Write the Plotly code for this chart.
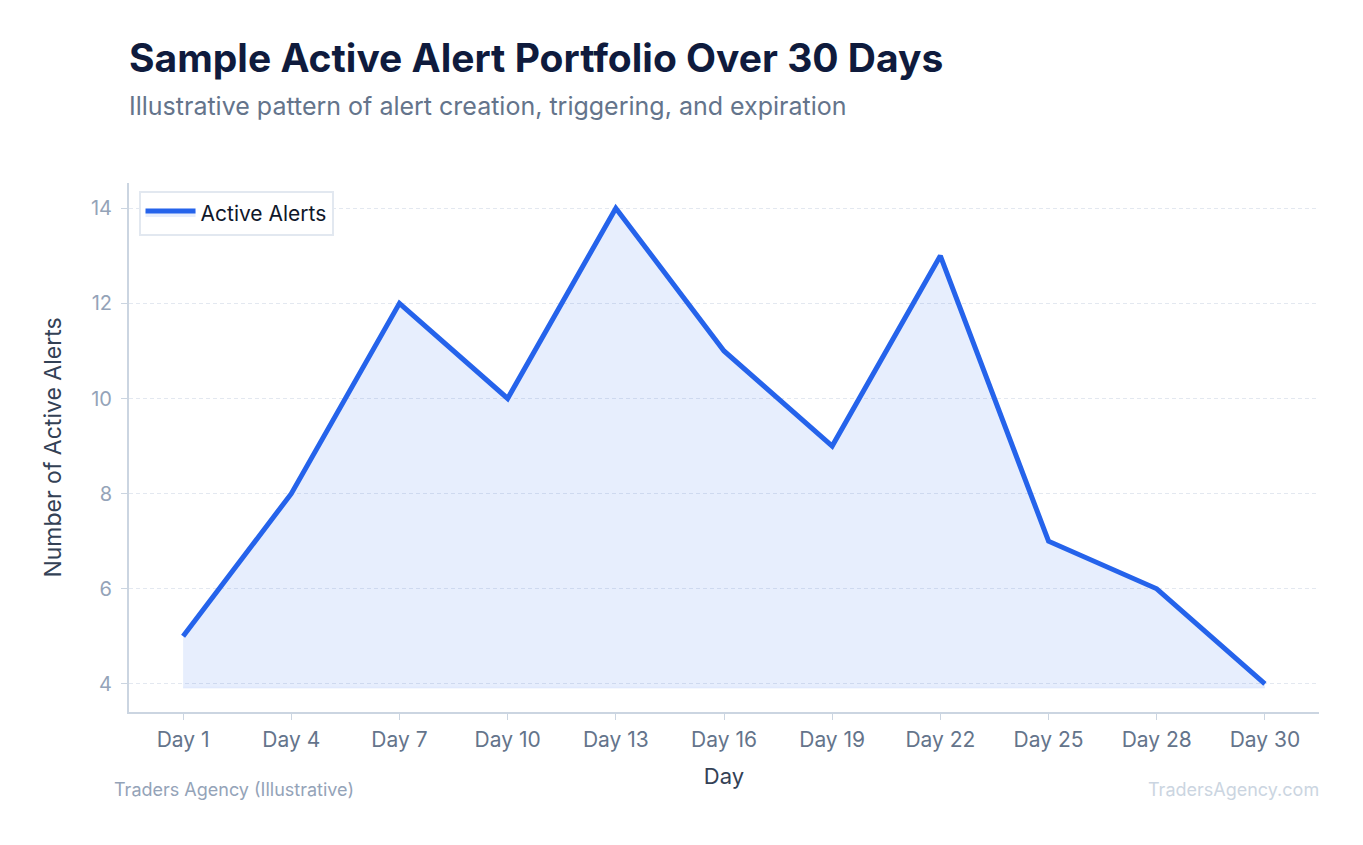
import plotly.graph_objects as go

# Données du portefeuille d'alertes
days = ["Day 1", "Day 4", "Day 7", "Day 10", "Day 13", "Day 16",
        "Day 19", "Day 22", "Day 25", "Day 28", "Day 30"]
active_alerts = [5, 8, 12, 10, 14, 11, 9, 13, 7, 6, 4]
fill_floor = 3.92  # niveau bas de la zone remplie

fig = go.Figure()

# ligne de base pour la zone remplie
fig.add_trace(go.Scatter(
    x=days, y=[fill_floor] * len(days),
    mode="lines", line=dict(width=2, color="rgba(37,99,235,0.06)"),
    showlegend=False, hoverinfo="skip"))

fig.add_trace(go.Scatter(
    x=days, y=active_alerts, name="Active Alerts",
    mode="lines", line=dict(color="#2563eb", width=5),
    fill="tonexty", fillcolor="rgba(37,99,235,0.11)"))

fig.update_layout(
    width=1363, height=845,
    paper_bgcolor="white", plot_bgcolor="white",
    font=dict(family="Inter", color="#334155"),
    margin=dict(l=121, r=52, t=175, b=141),
    showlegend=True,
    legend=dict(x=0.008, y=0.985, xanchor="left", yanchor="top",
                bordercolor="#e2e8f0", borderwidth=2, bgcolor="white",
                itemwidth=50,
                font=dict(size=21, color="#0f172a")),
    xaxis=dict(
        title=dict(text="Day", font=dict(size=22, color="#334155"), standoff=17),
        range=[-0.5, 10.5], showgrid=False,
        showline=True, linecolor="#cbd5e1", linewidth=2,
        ticks="outside", tickcolor="#cbd5e1", ticklen=6, ticklabelstandoff=2,
        tickfont=dict(size=21, color="#64748b")),
    yaxis=dict(
        title=dict(text="Number of Active Alerts", font=dict(size=23, color="#334155"), standoff=23),
        range=[3.41, 14.53], dtick=2, tick0=0,
        showgrid=True, gridcolor="#e3e8f0", griddash="4px,3px", gridwidth=1,
        showline=True, linecolor="#cbd5e1", linewidth=2, zeroline=False,
        ticks="outside", tickcolor="#cbd5e1", ticklen=6, ticklabelstandoff=5,
        tickfont=dict(size=20, color="#94a3b8")),
)

# titre et sous-titre
fig.add_annotation(text="<b>Sample Active Alert Portfolio Over 30 Days</b>",
                   xref="paper", yref="paper", x=-0.0013, y=1.2363,
                   xanchor="left", yanchor="middle", showarrow=False,
                   font=dict(size=39, color="#0f1b3d"))
fig.add_annotation(text="Illustrative pattern of alert creation, triggering, and expiration",
                   xref="paper", yref="paper", x=-0.0013, y=1.1456,
                   xanchor="left", yanchor="middle", showarrow=False,
                   font=dict(size=25, color="#64748b"))

# notes de bas de page
fig.add_annotation(text="Traders Agency (Illustrative)", xref="paper", yref="paper",
                   x=-0.0145, y=-0.147, xanchor="left", yanchor="middle", showarrow=False,
                   font=dict(size=18, color="#94a3b8"))
fig.add_annotation(text="TradersAgency.com", xref="paper", yref="paper",
                   x=1.0015, y=-0.147, xanchor="right", yanchor="middle", showarrow=False,
                   font=dict(size=18, color="#cbd5e1"))

fig.write_html("out.html")
